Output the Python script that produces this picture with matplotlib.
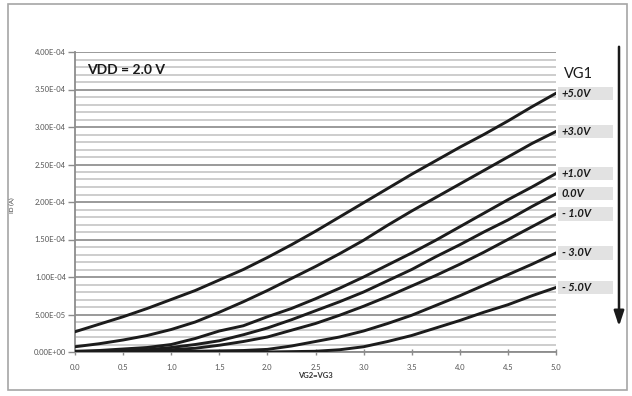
import matplotlib
matplotlib.use("Agg")
import matplotlib.pyplot as plt
from matplotlib.patches import Rectangle
from matplotlib.ticker import MultipleLocator, FuncFormatter
from matplotlib.transforms import blended_transform_factory

plt.rcParams['font.family'] = ['Lato', 'DejaVu Sans']

# Gate voltage sweep VG2 = VG3 (V)
vg23 = [0.0, 0.25, 0.5, 0.75, 1.0, 1.25, 1.5, 1.75, 2.0, 2.25, 2.5,
        2.75, 3.0, 3.25, 3.5, 3.75, 4.0, 4.25, 4.5, 4.75, 5.0]

# Drain current (A) for each VG1 setting, units of 1e-4 A
id_p5 = [0.27, 0.37, 0.47, 0.58, 0.70, 0.82, 0.96, 1.10, 1.26, 1.43, 1.61,
         1.80, 1.99, 2.18, 2.37, 2.55, 2.73, 2.90, 3.08, 3.27, 3.45]
id_p3 = [0.07, 0.11, 0.16, 0.22, 0.30, 0.40, 0.53, 0.67, 0.82, 0.98, 1.14,
         1.31, 1.49, 1.69, 1.88, 2.06, 2.24, 2.42, 2.60, 2.78, 2.94]
id_p1 = [0.01, 0.02, 0.04, 0.06, 0.10, 0.18, 0.28, 0.35, 0.47, 0.58, 0.71,
         0.85, 1.00, 1.16, 1.32, 1.49, 1.67, 1.85, 2.03, 2.20, 2.38]
id_0 = [0.00, 0.01, 0.02, 0.03, 0.06, 0.10, 0.15, 0.23, 0.32, 0.43, 0.55,
        0.67, 0.80, 0.95, 1.10, 1.27, 1.43, 1.60, 1.76, 1.94, 2.11]
id_m1 = [0.00, 0.00, 0.01, 0.02, 0.03, 0.05, 0.09, 0.14, 0.20, 0.29, 0.38,
         0.49, 0.61, 0.74, 0.88, 1.02, 1.17, 1.33, 1.50, 1.67, 1.84]
id_m3 = [0.00, 0.00, 0.00, 0.00, 0.005, 0.01, 0.015, 0.02, 0.035, 0.08, 0.14,
         0.20, 0.28, 0.38, 0.49, 0.62, 0.75, 0.89, 1.03, 1.17, 1.32]
id_m5 = [0.00, 0.00, 0.00, 0.00, 0.00, 0.00, 0.00, 0.00, 0.00, 0.005, 0.01,
         0.03, 0.07, 0.14, 0.22, 0.32, 0.42, 0.53, 0.63, 0.75, 0.86]

vg1_labels = ['+5.0V', '+3.0V', '+1.0V', '0.0V', '- 1.0V', '- 3.0V', '- 5.0V']
series = [id_p5, id_p3, id_p1, id_0, id_m1, id_m3, id_m5]

fig = plt.figure(figsize=(6.32, 3.96), dpi=100)
ax = fig.add_axes([75 / 632, 44 / 396, 481 / 632, 300 / 396])

for vals in series:
    ax.plot(vg23, [v * 1e-4 for v in vals], color='#1c1c1c', lw=2.1,
            solid_joinstyle='round', zorder=3)

ax.set_xlim(0, 5.0)
ax.set_ylim(0, 4.0e-4)
ax.xaxis.set_major_locator(MultipleLocator(0.5))
ax.yaxis.set_major_locator(MultipleLocator(5e-5))
ax.yaxis.set_minor_locator(MultipleLocator(1e-5))
ax.xaxis.set_major_formatter(FuncFormatter(lambda v, p: f"{v:.1f}"))


def sci(v, p):
    if abs(v) < 1e-12:
        return "0.00E+00"
    return f"{v:.2E}"


ax.yaxis.set_major_formatter(FuncFormatter(sci))

ax.grid(axis='y', which='minor', color='#c9c9c9', lw=1.3, zorder=0)
ax.grid(axis='y', which='major', color='#9a9a9a', lw=1.4, zorder=1)
ax.grid(axis='x', visible=False)
ax.set_axisbelow(True)

for s in ['top', 'right']:
    ax.spines[s].set_visible(False)
for s in ['left', 'bottom']:
    ax.spines[s].set_color('#8c8c8c')
    ax.spines[s].set_linewidth(1.3)

ax.tick_params(axis='y', which='major', direction='out', length=5, width=1,
               color='#8c8c8c', labelsize=5.5, labelcolor='#555555', pad=1.5)
ax.tick_params(axis='y', which='minor', length=0)
ax.tick_params(axis='x', which='major', direction='inout', length=5, width=1,
               color='#8c8c8c', labelsize=5.5, labelcolor='#555555', pad=6)

ax.set_xlabel('VG2=VG3', fontsize=5.5, fontweight='bold', color='#333333',
              labelpad=0.5)
fig.text(12 / 632, 1 - 205 / 396, 'ID (A)', rotation=90, fontsize=4.5,
         color='#333333', ha='center', va='center')

fig.text(87 / 632, 1 - 70 / 396, 'VDD = 2.0 V', fontsize=10,
         fontweight='bold', color='#1a1a1a', va='center', ha='left')
fig.text(564 / 632, 1 - 74 / 396, 'VG1', fontsize=10.5, color='#1a1a1a',
         va='center', ha='left')

# Curve labels at the right end of each trace
tr = blended_transform_factory(ax.transAxes, ax.transData)
box_h = 0.175e-4
for lab, vals in zip(vg1_labels, series):
    yend = vals[-1] * 1e-4
    ax.add_patch(Rectangle((1.004, yend - box_h / 2), 0.115, box_h,
                           transform=tr, facecolor='#e2e2e2', edgecolor='none',
                           clip_on=False, zorder=2))
    ax.text(1.012, yend, lab, transform=tr, fontsize=8, fontweight='bold',
            fontstyle='italic', color='#1a1a1a', va='center', ha='left',
            clip_on=False, zorder=4)

# Downward arrow showing decreasing VG1
ax.annotate('', xy=(619, 396 - 329), xycoords='figure pixels',
            xytext=(619, 396 - 44), textcoords='figure pixels',
            arrowprops=dict(arrowstyle='-|>,head_width=0.3,head_length=0.9',
                            color='#1a1a1a', lw=1.8))

# Outer frame around the chart
fig.add_artist(Rectangle((8 / 632, 6 / 396), 619 / 632, 386 / 396,
                         transform=fig.transFigure, fill=False,
                         edgecolor='#a6a6a6', lw=1.2))

fig.savefig('out.png', dpi=100)
